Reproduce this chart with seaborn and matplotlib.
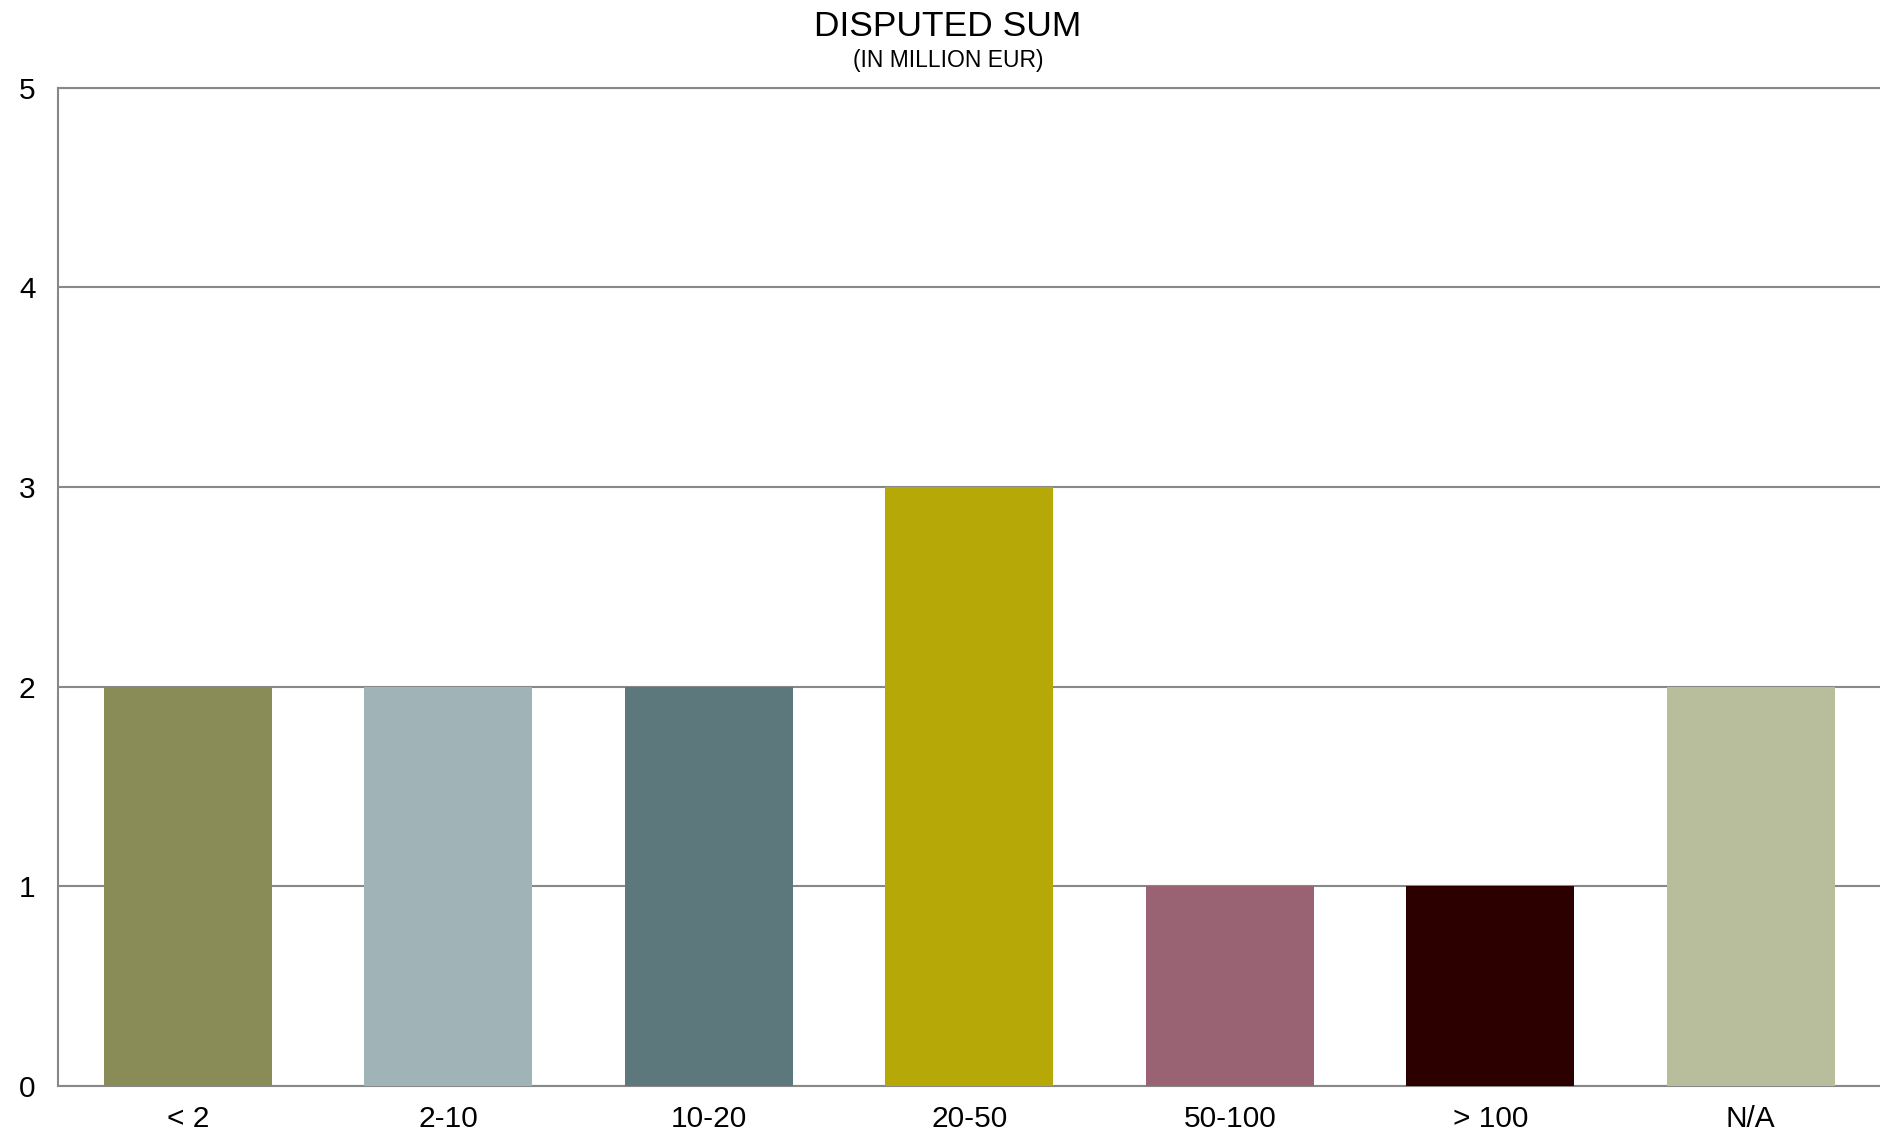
import matplotlib
matplotlib.use("Agg")
import matplotlib.pyplot as plt
import seaborn as sns
import pandas as pd

# data
categories = ['< 2', '2-10', '10-20', '20-50', '50-100', '> 100', 'N/A']
counts = [2, 2, 2, 3, 1, 1, 2]
colors = ['#8A8C57', '#A0B4B8', '#5C787D', '#B5A807', '#996374', '#2D0000', '#B8BD9B']

sns.set_style('white')
plt.rcParams['font.family'] = ['Liberation Sans', 'DejaVu Sans']
plt.rcParams['text.color'] = 'black'

df = pd.DataFrame({'cat': categories, 'n': counts})

fig = plt.figure(figsize=(18.81, 11.38), dpi=100)
ax = fig.add_axes([57.6 / 1881, 1 - 1086 / 1138, 1 - 57.6 / 1881, (1086 - 87.6) / 1138])

sns.barplot(data=df, x='cat', y='n', hue='cat', palette=colors, legend=False,
            width=0.645, saturation=1, linewidth=0, ax=ax, zorder=3)

ax.set_xlim(-0.5, 6.5)
ax.set_ylim(0, 5)
ax.set_yticks([0, 1, 2, 3, 4, 5])
ax.grid(axis='y', color='#888888', linewidth=1.5, zorder=0)
ax.set_axisbelow(True)
for s in ['left', 'bottom', 'top']:
    ax.spines[s].set_color('#888888')
    ax.spines[s].set_linewidth(1.5)
ax.spines['right'].set_visible(False)
ax.tick_params(axis='both', length=0, labelsize=21.5, colors='black')
ax.tick_params(axis='y', pad=16)
ax.tick_params(axis='x', pad=14)
ax.set_xlabel('')
ax.set_ylabel('')

fig.text(0.504, 1 - 26.5 / 1138, 'DISPUTED SUM', ha='center', va='center', fontsize=25.5)
fig.text(0.504, 1 - 60.5 / 1138, '(IN MILLION EUR)', ha='center', va='center', fontsize=16.5)

fig.savefig('out.png', dpi=100)
